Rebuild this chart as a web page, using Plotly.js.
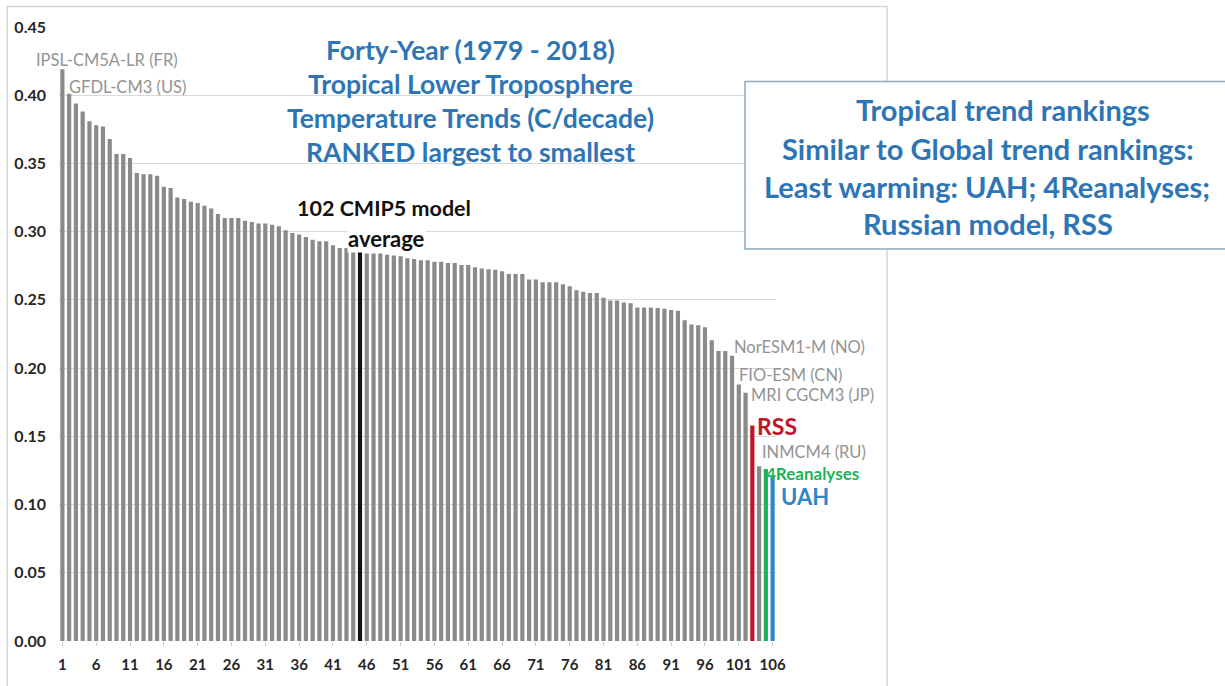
<!DOCTYPE html>
<html>
<head>
<meta charset="utf-8">
<script src="https://cdn.plot.ly/plotly-3.0.1.min.js"></script>
<style>html,body{margin:0;padding:0;background:#fff;}#chart{width:1225px;height:686px;}</style>
</head>
<body>
<div id="chart"></div>
<script>
// ---- data ----
// trends in C/decade, ranked largest to smallest (106 entries)
const trendValues = [
  0.419, 0.401, 0.394, 0.388, 0.381, 0.378, 0.377, 0.368, 0.357, 0.357,
  0.354, 0.343, 0.342, 0.342, 0.341, 0.333, 0.332, 0.325, 0.324, 0.322,
  0.321, 0.319, 0.317, 0.313, 0.310, 0.310, 0.310, 0.308, 0.307, 0.306,
  0.306, 0.305, 0.304, 0.301, 0.299, 0.298, 0.296, 0.294, 0.293, 0.293,
  0.290, 0.288, 0.288, 0.287, 0.286, 0.284, 0.284, 0.284, 0.283, 0.2825,
  0.282, 0.2805, 0.280, 0.279, 0.279, 0.278, 0.278, 0.277, 0.277, 0.2755,
  0.2755, 0.274, 0.273, 0.2725, 0.272, 0.271, 0.269, 0.269, 0.269, 0.265,
  0.265, 0.263, 0.263, 0.263, 0.2615, 0.260, 0.257, 0.256, 0.255, 0.255,
  0.2515, 0.2495, 0.2495, 0.248, 0.2475, 0.2445, 0.2445, 0.2445, 0.244, 0.2435,
  0.2425, 0.242, 0.235, 0.232, 0.2315, 0.230, 0.2205, 0.2125, 0.2125, 0.209,
  0.188, 0.182, 0.158, 0.128, 0.126, 0.121
];
const ranks = trendValues.map((v, i) => i + 1);
const xTickLabels = [1, 6, 11, 16, 21, 26, 31, 36, 41, 46, 51, 56, 61, 66, 71, 76, 81, 86, 91, 96, 101, 106];
const yTickValues = [0, 0.05, 0.10, 0.15, 0.20, 0.25, 0.30, 0.35, 0.40, 0.45];
// special entries (rank -> name)
const specialRanks = { average: 45, RSS: 103, reanalyses: 105, UAH: 106 };
const namedModels = [
  { name: 'IPSL-CM5A-LR (FR)', rank: 1 },
  { name: 'GFDL-CM3 (US)', rank: 2 },
  { name: 'NorESM1-M (NO)', rank: 100 },
  { name: 'FIO-ESM (CN)', rank: 101 },
  { name: 'MRI CGCM3 (JP)', rank: 102 },
  { name: 'INMCM4 (RU)', rank: 104 }
];
const titleLines = ['Forty-Year (1979 - 2018)', 'Tropical Lower Troposphere', 'Temperature Trends (C/decade)', 'RANKED largest to smallest'];
const boxLines = ['Tropical trend rankings', 'Similar to Global trend rankings:', 'Least warming: UAH; 4Reanalyses;', 'Russian model, RSS'];

// ---- styles ----
const GRAY = '#8a8a8a', BLACK = '#111111', RED = '#C0142A', GREEN = '#1DB35A', BLUE = '#2E86C8';
const TITLE_BLUE = '#2E75B6', LABEL_GRAY = '#939393';
const FONT = 'Lato, "Open Sans", sans-serif';

const barColors = ranks.map(r => {
  if (r === specialRanks.average) return BLACK;
  if (r === specialRanks.RSS) return RED;
  if (r === specialRanks.reanalyses) return GREEN;
  if (r === specialRanks.UAH) return BLUE;
  return GRAY;
});

// plot-area geometry in pixels
const L = 59.3, R = 776, T = 27, B = 641;
const W = R - L, H = B - T;
const px = x => (x - L) / W;
const py = y => (B - y) / H;

const annotations = [];
function addText(text, xPix, yPix, size, color, weight, xanchor, bg) {
  annotations.push({
    xref: 'paper', yref: 'paper', x: px(xPix), y: py(yPix),
    text: text, showarrow: false, xanchor: xanchor || 'center', yanchor: 'middle',
    font: { family: FONT, size: size, color: color, weight: weight || 700 },
    bgcolor: bg || 'rgba(0,0,0,0)', borderpad: 0
  });
}
// chart title block
const titleY = [50, 84, 118, 152];
titleLines.forEach((t, i) => addText(t, 471, titleY[i], 26.5, TITLE_BLUE, 700));
// right text box
const boxY = [110, 148, 186, 223];
const boxX = [1003, 988, 987, 988];
boxLines.forEach((t, i) => addText(t, boxX[i], boxY[i], 29, TITLE_BLUE, 700));
// average label
addText('102 CMIP5 model', 384.5, 208, 21.5, BLACK, 700);
addText('average', 387, 238, 22, BLACK, 700, 'center', '#ffffff');
// model labels (left-anchored)
const labelPos = {
  'IPSL-CM5A-LR (FR)': [35, 60], 'GFDL-CM3 (US)': [68, 87],
  'NorESM1-M (NO)': [733, 347], 'FIO-ESM (CN)': [738, 375],
  'MRI CGCM3 (JP)': [750, 395], 'INMCM4 (RU)': [761, 452]
};
namedModels.forEach(m => { const p = labelPos[m.name]; addText(m.name, p[0], p[1], 16.5, LABEL_GRAY, 400, 'left'); });
addText('RSS', 756, 426, 23, RED, 700, 'left');
addText('4Reanalyses', 765, 473, 17, GREEN, 700, 'left');
addText('UAH', 780, 496, 22, BLUE, 700, 'left');

const shapes = [
  // outer chart frame
  { type: 'rect', xref: 'paper', yref: 'paper', x0: px(7.5), x1: px(887), y0: py(700), y1: py(6.5),
    line: { color: '#d6d6d6', width: 1.5 }, fillcolor: 'rgba(0,0,0,0)', layer: 'below' },
  // white backing of title block
  { type: 'rect', xref: 'paper', yref: 'paper', x0: px(246), x1: px(696), y0: py(172), y1: py(20),
    line: { width: 0 }, fillcolor: '#ffffff', layer: 'below' },
  // right text box
  { type: 'rect', xref: 'paper', yref: 'paper', x0: px(745), x1: px(1240), y0: py(249), y1: py(81.5),
    line: { color: '#8fa9bf', width: 1.5 }, fillcolor: '#ffffff', layer: 'above' }
];

const trace = {
  type: 'bar', x: ranks, y: trendValues,
  marker: { color: barColors, line: { width: 0 } },
  hoverinfo: 'x+y'
};

const layout = {
  width: 1225, height: 686, autosize: false,
  margin: { l: L, r: 1225 - R, t: T, b: 686 - B, pad: 0 },
  paper_bgcolor: '#ffffff', plot_bgcolor: '#ffffff',
  bargap: 0.38, showlegend: false,
  font: { family: FONT },
  xaxis: {
    range: [0.5, 106.5], tickmode: 'array', tickvals: xTickLabels, ticktext: xTickLabels.map(String),
    showgrid: false, zeroline: false, showline: false,
    ticks: 'outside', ticklen: 4, tickcolor: '#cccccc', ticklabelstandoff: 6,
    tickfont: { family: FONT, size: 15, color: '#262626', weight: 700 }
  },
  yaxis: {
    range: [0, 0.45], tickmode: 'array', tickvals: yTickValues, ticktext: yTickValues.map(v => v.toFixed(2)),
    showgrid: true, gridcolor: '#d9d9d9', gridwidth: 1, zeroline: false, showline: false,
    ticks: '', ticklabelstandoff: 12,
    tickfont: { family: FONT, size: 16, color: '#262626', weight: 700 }
  },
  shapes: shapes,
  annotations: annotations
};

Plotly.newPlot('chart', [trace], layout, { displayModeBar: false, staticPlot: true });
</script>
</body>
</html>
